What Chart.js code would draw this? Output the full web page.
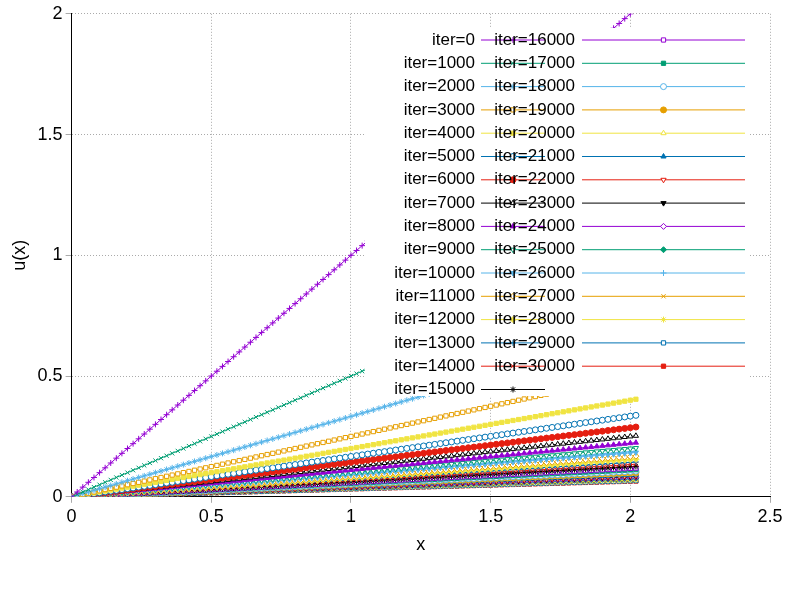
<!DOCTYPE html>
<html><head><script src="https://cdn.jsdelivr.net/npm/chart.js@4"></script>
<style>body{margin:0;background:#fff}</style></head>
<body><canvas id="c" width="800" height="600"></canvas>
<script>
const iters=[0,1000,2000,3000,4000,5000,6000,7000,8000,9000,10000,11000,12000,13000,14000,15000,16000,17000,18000,19000,20000,21000,22000,23000,24000,25000,26000,27000,28000,29000,30000];
// slope: value at x=2 is 2/(k+1)
const slopes=[1,0.5,0.333,0.25,0.2,0.167,0.143,0.125,0.111,0.1,0.0909,0.0833,0.0769,0.0714,0.0667,0.0625,0.0588,0.0556,0.0526,0.05,0.0476,0.0455,0.0435,0.0417,0.04,0.0385,0.037,0.0357,0.0345,0.0333,0.0323];
const xs=[];for(let i=0;i<=101;i++)xs.push(+(i*0.02).toFixed(2));
const colors=['#9400d3','#009e73','#56b4e9','#e69f00','#f0e442','#0072b2','#e51e10','#000000'];
const ptypes=[['cross',false,0],['crossRot',false,0],['star',false,0],['rect',false,0],['rect',true,0],['circle',false,0],['circle',true,0],['triangle',false,0],['triangle',true,0],['triangle',false,180],['triangle',true,180],['rectRot',false,0],['rectRot',true,0]];
const datasets=iters.map((it,i)=>{const c=colors[i%8],p=ptypes[i%13];return{label:'iter='+it,data:xs.map(x=>({x,y:x*slopes[i]})),borderColor:c,backgroundColor:p[1]?c:'#fff',pointStyle:p[0],rotation:p[2],pointRadius:3,pointBorderWidth:1,borderWidth:1,showLine:true};});
const legendPlugin={id:'lg',afterDatasetsDraw(ch){const ctx=ch.ctx;ctx.save();ctx.fillStyle='#fff';ctx.fillRect(365,28,385,368);ctx.font='17px "Liberation Sans", Arial';ctx.textAlign='right';ctx.textBaseline='middle';
datasets.forEach((d,i)=>{const col=i<16?0:1,row=i<16?i:i-16;const y=40+row*23.3;const tx=col?575:475,lx=col?582:481,lw=col?163:64;
ctx.fillStyle='#000';ctx.fillText(d.label,tx,y);ctx.strokeStyle=d.borderColor;ctx.lineWidth=1;ctx.beginPath();ctx.moveTo(lx,y);ctx.lineTo(lx+lw,y);ctx.stroke();
ctx.fillStyle=d.backgroundColor;ctx.strokeStyle=d.borderColor;Chart.helpers.drawPoint(ctx,{pointStyle:d.pointStyle,rotation:d.rotation,radius:3,borderWidth:1},lx+lw/2,y);});
ctx.restore();}};
new Chart(document.getElementById('c'),{type:'scatter',data:{datasets},plugins:[legendPlugin],
options:{responsive:false,animation:false,layout:{padding:{top:10,right:30,bottom:40,left:5}},plugins:{legend:{display:false},tooltip:{enabled:false}},
scales:{x:{min:0,max:2.5,ticks:{stepSize:0.5,color:'#000',font:{size:18},callback:v=>String(+v.toFixed(1))},title:{display:true,text:'x',color:'#000',font:{size:18}},grid:{color:'#aaa',tickLength:6},border:{color:'#000',dash:[1,2]}},
y:{min:0,max:2,ticks:{stepSize:0.5,color:'#000',font:{size:18},callback:v=>String(+v.toFixed(1))},title:{display:true,text:'u(x)',color:'#000',font:{size:18}},grid:{color:'#aaa',tickLength:6},border:{color:'#000',dash:[1,2]}}}}});
</script></body></html>
